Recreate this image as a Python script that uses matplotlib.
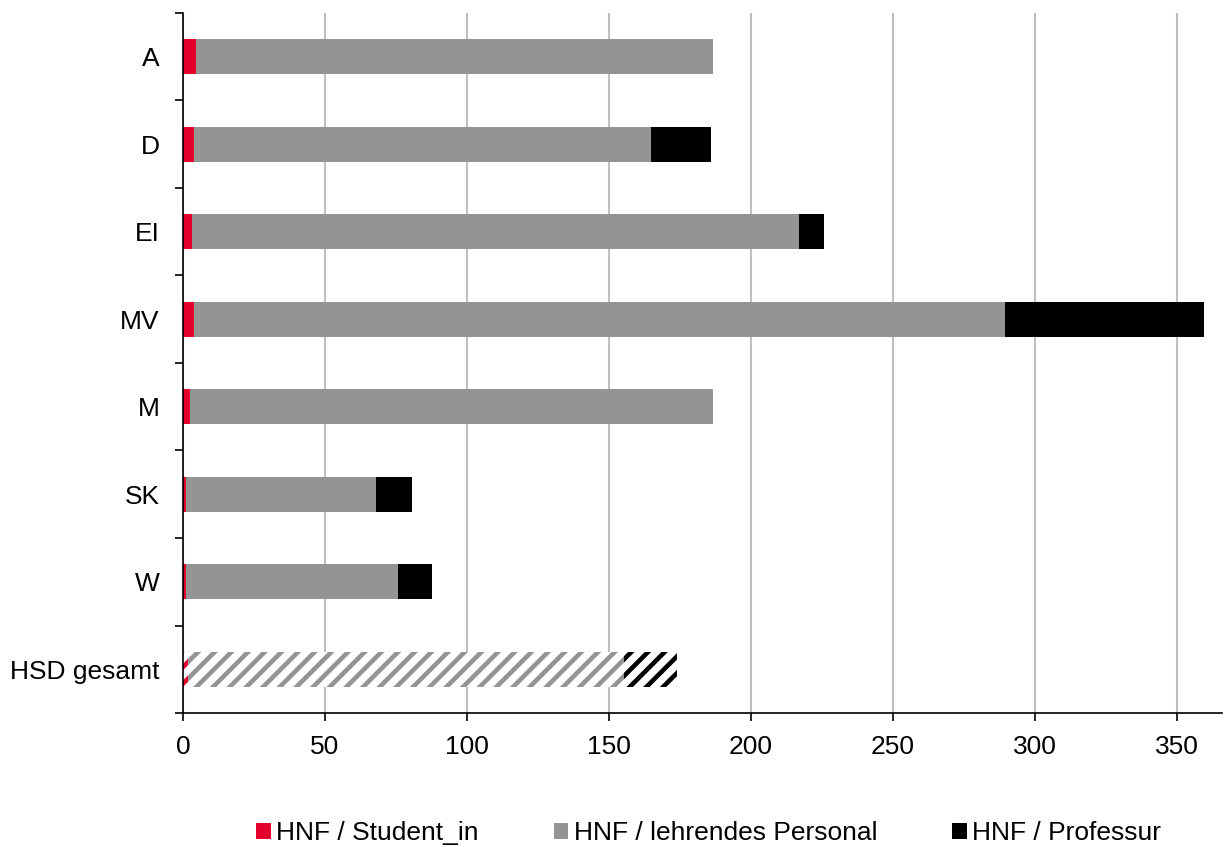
import numpy as np
import matplotlib
matplotlib.use('Agg')
import matplotlib.pyplot as plt
from matplotlib.patches import Patch
from matplotlib.ticker import FixedLocator

plt.rcParams.update({
    'font.family': ['Liberation Sans', 'DejaVu Sans'],
    'font.size': 19,
    'hatch.linewidth': 3.3,
})

categories = ['A', 'D', 'EI', 'MV', 'M', 'SK', 'W', 'HSD gesamt']
student = [4.6, 3.9, 3.2, 3.9, 2.5, 1.1, 1.1, 1.8]
lehrend = [182.2, 161.1, 213.9, 285.5, 184.3, 66.9, 74.7, 153.7]
professur = [0.0, 21.1, 8.5, 70.1, 0.0, 12.7, 12.0, 18.6]
series_names = ['HNF / Student_in', 'HNF / lehrendes Personal', 'HNF / Professur']
colors = ['#E4002B', '#949494', '#000000']

fig = plt.figure(figsize=(12.24, 8.47), dpi=100)
ax = fig.add_axes([0.1495, 0.158, 0.849, 0.827])

n = len(categories)
y = np.arange(n)
h = 0.4
data = [np.array(student), np.array(lehrend), np.array(professur)]

left = np.zeros(n)
for vals, col in zip(data, colors):
    # normal bars for the faculties
    ax.barh(y[:-1], vals[:-1], left=left[:-1], height=h, color=col, lw=0, zorder=3)
    # hatched bar for the total
    ax.barh(y[-1:], vals[-1:], left=left[-1:], height=h, facecolor='white',
            edgecolor=col, hatch='//', lw=0, zorder=3)
    left = left + vals

ax.set_xlim(0, 366)
ax.set_ylim(n - 0.5, -0.5)
ax.set_xticks(np.arange(0, 351, 50))
ax.set_yticks(y)
ax.set_yticklabels(categories)
ax.yaxis.set_minor_locator(FixedLocator(np.arange(-0.5, n, 1)))
ax.tick_params(axis='y', which='major', length=0, pad=17)
ax.tick_params(axis='y', which='minor', length=6, width=1.2, direction='out')
ax.tick_params(axis='x', which='major', length=6, width=1.2, direction='out', pad=9.5)

ax.grid(True, axis='x', color='#BFBFBF', lw=1.5, zorder=0)
for s in ['top', 'right']:
    ax.spines[s].set_visible(False)
for s in ['left', 'bottom']:
    ax.spines[s].set_linewidth(1.2)
    ax.spines[s].set_zorder(4)

handles = [Patch(facecolor=c, edgecolor='none') for c in colors]
fig.legend(handles, series_names, loc='center', bbox_to_anchor=(0.579, 0.016), ncol=3,
           frameon=False, handlelength=0.55, handleheight=0.55,
           handletextpad=0.2, columnspacing=2.85)

plt.savefig('out.png', dpi=100)
plt.close()
